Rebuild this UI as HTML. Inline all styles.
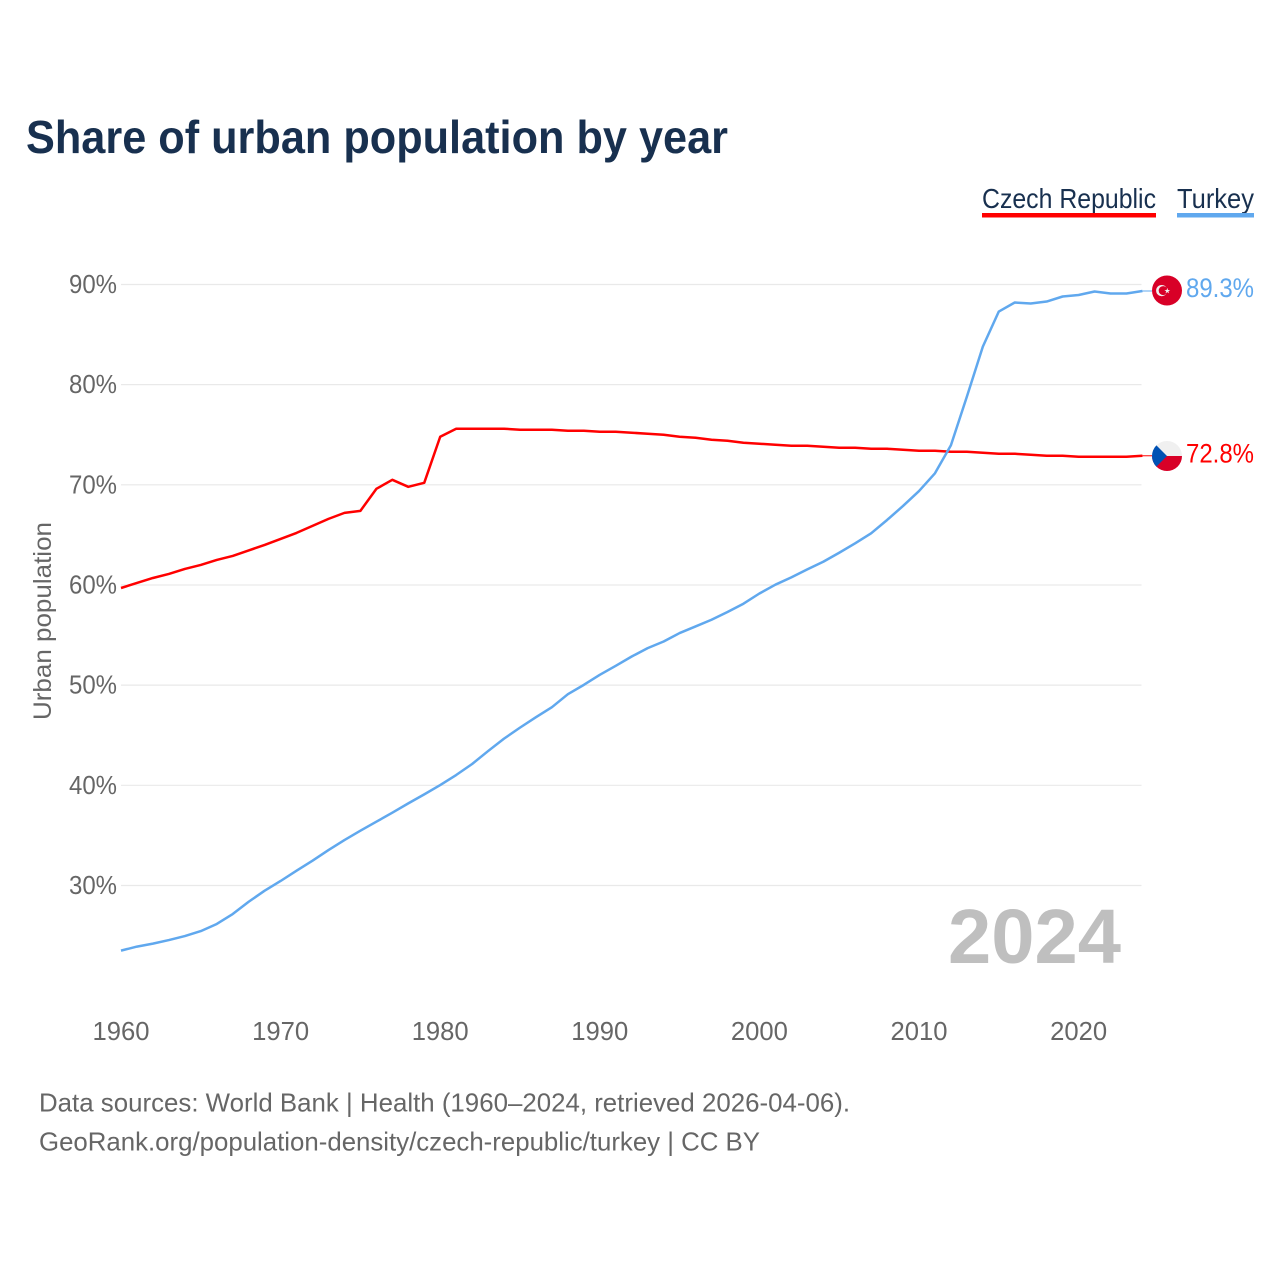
<!DOCTYPE html>
<html lang="en">
<head>
<meta charset="utf-8">
<title>Share of urban population by year</title>
<style>
html,body{margin:0;padding:0;background:#fff;}
svg{display:block;font-family:"Liberation Sans",sans-serif;}
</style>
</head>
<body>
<svg id="chart" width="1280" height="1280" viewBox="0 0 1280 1280" xmlns="http://www.w3.org/2000/svg">
  <defs>
    <clipPath id="flag-clip-tr"><circle cx="1167" cy="290.5" r="15"/></clipPath>
    <clipPath id="flag-clip-cz"><circle cx="1167" cy="456" r="15"/></clipPath>
  </defs>
  <rect x="0" y="0" width="1280" height="1280" fill="#ffffff"/>
  <text x="26" y="153" font-size="46" font-weight="700" fill="#18304f" textLength="702" lengthAdjust="spacingAndGlyphs">Share of urban population by year</text>

  <g>
    <g>
      <text x="982" y="208" font-size="28" fill="#18304f" textLength="174" lengthAdjust="spacingAndGlyphs">Czech Republic</text>
      <rect x="982" y="213" width="174" height="4.5" fill="#ff0000"/>
    </g>
    <g>
      <text x="1177" y="208" font-size="28" fill="#18304f" textLength="77" lengthAdjust="spacingAndGlyphs">Turkey</text>
      <rect x="1177" y="213" width="77" height="4.5" fill="#60a8ee"/>
    </g>
  </g>

  <g id="grid"></g>
  <g id="yticks"></g>
  <g id="xticks"></g>
  <text transform="translate(51 621) rotate(-90)" text-anchor="middle" font-size="25" fill="#666666" textLength="198" lengthAdjust="spacingAndGlyphs">Urban population</text>

  <text x="948" y="963" font-size="77" font-weight="700" fill="#bfbfbf" textLength="173" lengthAdjust="spacingAndGlyphs">2024</text>

  <g id="series"></g>

  <g clip-path="url(#flag-clip-tr)">
    <rect x="1152" y="275.5" width="30" height="30" fill="#d80027"/>
    <circle cx="1161.7" cy="290.6" r="5.6" fill="#f0f0f0"/>
    <circle cx="1163.2" cy="290.6" r="4.5" fill="#d80027"/>
    <polygon points="1167.3,287.9 1168,290 1170.2,290 1168.4,291.3 1169.1,293.4 1167.3,292.1 1165.5,293.4 1166.2,291.3 1164.4,290 1166.6,290" fill="#f0f0f0"/>
  </g>
  <g clip-path="url(#flag-clip-cz)">
    <rect x="1152" y="441" width="30" height="15" fill="#f0f0f0"/>
    <rect x="1152" y="456" width="30" height="15" fill="#d80027"/>
    <polygon points="1156.4,445.4 1167,456 1156.4,466.6 1150,471 1150,441" fill="#0052b4"/>
  </g>

  <text id="label-tr" x="1186" y="297" font-size="27" fill="#60a8ee" textLength="68" lengthAdjust="spacingAndGlyphs">89.3%</text>
  <text id="label-cz" x="1186" y="462.5" font-size="27" fill="#ff0000" textLength="68" lengthAdjust="spacingAndGlyphs">72.8%</text>

  <text x="39" y="1111.5" font-size="26" fill="#666666" textLength="811" lengthAdjust="spacingAndGlyphs">Data sources: World Bank | Health (1960–2024, retrieved 2026-04-06).</text>
  <text x="39" y="1150.5" font-size="26" fill="#666666" textLength="721" lengthAdjust="spacingAndGlyphs">GeoRank.org/population-density/czech-republic/turkey | CC BY</text>
</svg>
<script>
const years = [1960,1961,1962,1963,1964,1965,1966,1967,1968,1969,1970,1971,1972,1973,1974,1975,1976,1977,1978,1979,1980,1981,1982,1983,1984,1985,1986,1987,1988,1989,1990,1991,1992,1993,1994,1995,1996,1997,1998,1999,2000,2001,2002,2003,2004,2005,2006,2007,2008,2009,2010,2011,2012,2013,2014,2015,2016,2017,2018,2019,2020,2021,2022,2023,2024];
const czechRepublic = [59.7,60.2,60.7,61.1,61.6,62.0,62.5,62.9,63.45,64.0,64.6,65.2,65.9,66.6,67.2,67.4,69.6,70.5,69.8,70.2,74.8,75.6,75.6,75.6,75.6,75.5,75.5,75.5,75.4,75.4,75.3,75.3,75.2,75.1,75.0,74.8,74.7,74.5,74.4,74.2,74.1,74.0,73.9,73.9,73.8,73.7,73.7,73.6,73.6,73.5,73.4,73.4,73.3,73.3,73.2,73.1,73.1,73.0,72.9,72.9,72.8,72.8,72.8,72.8,72.9];
const turkey = [23.5,23.9,24.2,24.55,24.95,25.45,26.16,27.15,28.38,29.48,30.45,31.48,32.48,33.54,34.54,35.47,36.37,37.27,38.2,39.1,40.03,41.03,42.13,43.42,44.66,45.76,46.8,47.8,49.1,50.03,51.03,51.93,52.86,53.7,54.36,55.2,55.86,56.53,57.3,58.13,59.15,60.03,60.76,61.56,62.32,63.22,64.16,65.16,66.49,67.89,69.38,71.15,73.95,78.8,83.8,87.3,88.2,88.1,88.3,88.8,88.95,89.3,89.1,89.1,89.35];
const yTicks = [30,40,50,60,70,80,90];
const xTicks = [1960,1970,1980,1990,2000,2010,2020];

const NS = 'http://www.w3.org/2000/svg';
function xScale(year){ return 121 + (year - 1960) * 15.96; }
function yScale(value){ return 885.5 - (value - 30) * 10.017; }
function make(tag, parent){
  const el = document.createElementNS(NS, tag);
  parent.appendChild(el);
  return el;
}

const gridG = document.getElementById('grid');
const yG = document.getElementById('yticks');
yTicks.forEach(function(t){
  const line = make('line', gridG);
  
  
  line.setAttribute('x1', 121);
  line.setAttribute('x2', 1141.5);
  line.setAttribute('y1', yScale(t));
  line.setAttribute('y2', yScale(t));
  line.setAttribute('stroke', '#e9e9e9');
  line.setAttribute('stroke-width', '1.2');
  const label = make('text', yG);
  
  
  label.setAttribute('x', 69);
  label.setAttribute('y', yScale(t) + 8.5);
  label.setAttribute('font-size', '26');
  label.setAttribute('fill', '#666666');
  label.setAttribute('textLength', '48');
  label.setAttribute('lengthAdjust', 'spacingAndGlyphs');
  label.textContent = t + '%';
});

const xG = document.getElementById('xticks');
xTicks.forEach(function(t){
  const label = make('text', xG);
  
  
  label.setAttribute('x', xScale(t) - 28.5);
  label.setAttribute('y', 1040);
  label.setAttribute('font-size', '26');
  label.setAttribute('fill', '#666666');
  label.setAttribute('textLength', '57');
  label.setAttribute('lengthAdjust', 'spacingAndGlyphs');
  label.textContent = String(t);
});

const seriesG = document.getElementById('series');
function drawSeries(values, color, name, endX){
  const pts = values.map(function(v, i){ return xScale(years[i]).toFixed(2) + ',' + yScale(v).toFixed(2); });
  const poly = make('polyline', seriesG);
  
  
  poly.setAttribute('points', pts.join(' '));
  poly.setAttribute('fill', 'none');
  poly.setAttribute('stroke', color);
  poly.setAttribute('stroke-width', '2.5');
  poly.setAttribute('stroke-linejoin', 'round');
  const last = values[values.length - 1];
  const lastYear = years[years.length - 1];
  const conn = make('line', seriesG);
  
  
  conn.setAttribute('x1', xScale(lastYear));
  conn.setAttribute('x2', endX);
  conn.setAttribute('y1', yScale(last));
  conn.setAttribute('y2', yScale(last));
  conn.setAttribute('stroke', color);
  conn.setAttribute('stroke-width', '1');
}
drawSeries(czechRepublic, '#ff0000', 'czech-republic', 1152);
drawSeries(turkey, '#60a8ee', 'turkey', 1152);
</script>
</body>
</html>
